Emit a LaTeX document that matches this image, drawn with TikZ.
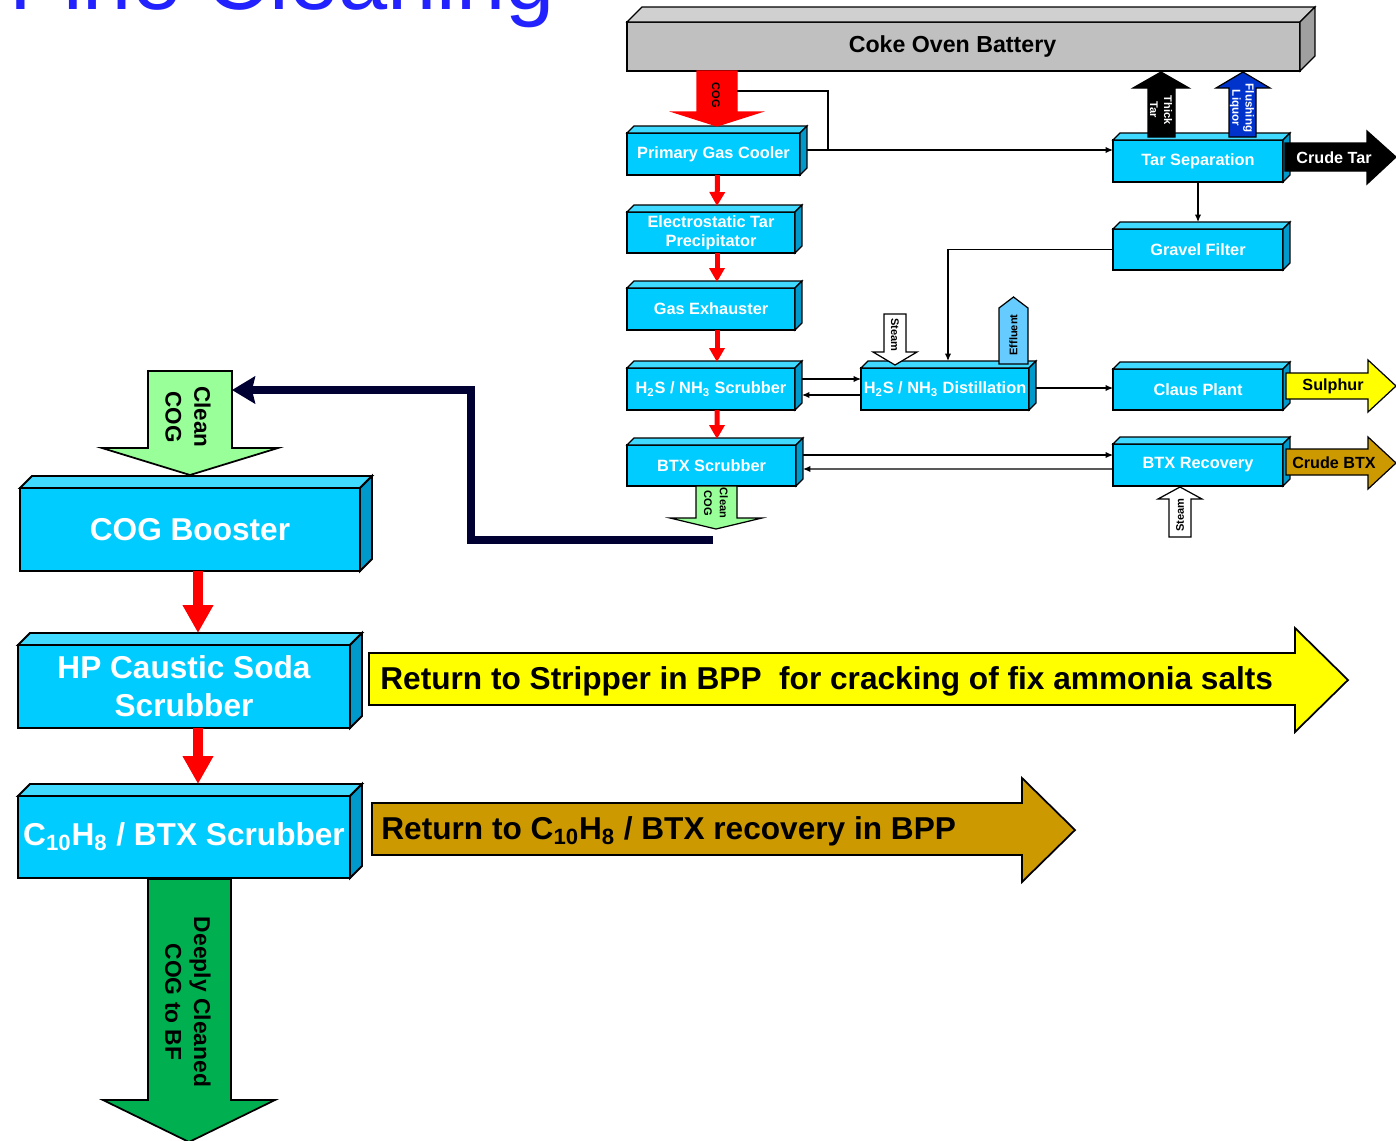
\documentclass[tikz,border=0pt]{standalone}
\usepackage{fontspec}
\setmainfont{Liberation Sans}
\usetikzlibrary{arrows.meta,calc}
\definecolor{boxfront}{HTML}{00CCFF}
\definecolor{boxtop}{HTML}{40D9FF}
\definecolor{boxside}{HTML}{0099CC}
\definecolor{ovenfront}{HTML}{C0C0C0}
\definecolor{oventop}{HTML}{D0D0D0}
\definecolor{ovenside}{HTML}{A0A0A0}
\definecolor{liquorblue}{HTML}{0033CC}
\definecolor{effluentblue}{HTML}{66CCFF}
\definecolor{cleangreen}{HTML}{99FF99}
\definecolor{deepgreen}{HTML}{00B050}
\definecolor{btxgold}{HTML}{CC9900}
\definecolor{sulphuryellow}{HTML}{FFFF00}
\definecolor{returnnavy}{HTML}{000033}
\definecolor{titleblue}{HTML}{2222FF}

\begin{document}
\begin{tikzpicture}[x=0.02cm, y=-0.02cm,
    box/.style={draw=black, line width=0.7pt, fill=boxfront, text=white, inner sep=0pt, outer sep=0pt, align=center, font=\fontsize{9.3}{10.8}\selectfont\bfseries},
    bigbox/.style={box, line width=1.1pt, font=\fontsize{18}{21.5}\selectfont\bfseries},
    topface/.style={draw=black, fill=boxtop, line join=miter},
    sideface/.style={draw=black, fill=boxside, line join=miter},
    blk/.style={draw=black, line width=0.7pt, line join=miter},
    tinylbl/.style={inner sep=0pt, align=center, font=\fontsize{6.3}{7.8}\selectfont\bfseries},
    smalllbl/.style={inner sep=0pt, align=center, font=\fontsize{9.2}{11}\selectfont\bfseries},
    biglbl/.style={inner sep=0pt, align=center, font=\fontsize{12.8}{16.4}\selectfont\bfseries},
    flow/.style={draw=black, line width=0.7pt, -{Latex[length=0.15cm,width=0.13cm]}},
    redflow/.style={draw=red, line width=0.1cm, -{Triangle[width=0.3cm,length=0.28cm]}},
    bigred/.style={draw=red, line width=0.2cm, -{Triangle[width=0.58cm,length=0.56cm]}},
    navyline/.style={draw=returnnavy, line width=0.16cm, line join=miter, -{Stealth[length=0.46cm,width=0.54cm,inset=0.06cm]}},
]
\useasboundingbox (0,0) rectangle (1396,1140);
\clip (0,0) rectangle (1396,1140);

% heading, cut by the top edge
\node[inner sep=0pt, anchor=base west, text=titleblue, font=\fontsize{50.3}{52}\selectfont] (title) at (9,9) {Fine Cleaning};

% oven and process units (front faces)
\node[box, fill=ovenfront, text=black, minimum width=13.46cm, minimum height=0.98cm, font=\fontsize{13.2}{15}\selectfont\bfseries] (cob) at (963.5,46.5) {Coke Oven Battery\hspace*{0.44cm}};
\node[box, minimum width=3.46cm, minimum height=0.84cm] (pgc) at (713.5,154) {Primary Gas Cooler};
\node[box, minimum width=3.36cm, minimum height=0.82cm] (etp) at (711,232.5) {Electrostatic Tar\\Precipitator};
\node[box, minimum width=3.36cm, minimum height=0.84cm] (gex) at (711,309) {Gas Exhauster};
\node[box, minimum width=3.36cm, minimum height=0.84cm] (hss) at (711,389) {H\textsubscript{2}S / NH\textsubscript{3} Scrubber};
\node[box, minimum width=3.38cm, minimum height=0.82cm] (btxs) at (711.5,465.5) {BTX Scrubber};
\node[box, minimum width=3.36cm, minimum height=0.84cm] (hsd) at (945,389) {H\textsubscript{2}S / NH\textsubscript{3} Distillation};
\node[box, minimum width=3.40cm, minimum height=0.84cm] (tsep) at (1198,161) {Tar Separation};
\node[box, minimum width=3.40cm, minimum height=0.82cm] (gfil) at (1198,249.5) {Gravel Filter};
\node[box, minimum width=3.40cm, minimum height=0.82cm] (claus) at (1198,389.5) {Claus Plant};
\node[box, minimum width=3.40cm, minimum height=0.84cm] (btxr) at (1198,465) {BTX Recovery};

\node[bigbox, minimum width=6.80cm, minimum height=1.66cm] (boost) at (190,529.5) {COG Booster};
\node[bigbox, minimum width=6.64cm, minimum height=1.66cm] (hpcs) at (184,686.5) {HP Caustic Soda\\Scrubber};
\node[bigbox, minimum width=6.64cm, minimum height=1.64cm] (c10) at (184,837) {C\textsubscript{10}H\textsubscript{8} / BTX Scrubber};

% top and side faces
\foreach \b/\d/\w in {pgc/7/0.7, etp/7/0.7, gex/7/0.7, hss/7/0.7, btxs/7/0.7, hsd/7/0.7,
                      tsep/7/0.7, gfil/7/0.7, claus/7/0.7, btxr/7/0.7,
                      boost/12/1.1, hpcs/12/1.1, c10/12/1.1} {
  \draw[topface, line width=\w pt] (\b.north west) -- ++(\d,-\d) -- ($(\b.north east)+(\d,-\d)$) -- (\b.north east) -- cycle;
  \draw[sideface, line width=\w pt] (\b.north east) -- ++(\d,-\d) -- ($(\b.south east)+(\d,-\d)$) -- (\b.south east) -- cycle;
}
\draw[topface, fill=oventop, line width=0.7pt] (cob.north west) -- ++(15,-15) -- ($(cob.north east)+(15,-15)$) -- (cob.north east) -- cycle;
\draw[sideface, fill=ovenside, line width=0.7pt] (cob.north east) -- ++(15,-15) -- ($(cob.south east)+(15,-15)$) -- (cob.south east) -- cycle;

% gas line through the column
\draw[redflow] ($(pgc.south)+(4,0)$) -- ($(etp.north)+(6,-6)$);
\draw[redflow] ($(etp.south)+(6,0)$) -- ($(gex.north)+(6,-6)$);
\draw[redflow] ($(gex.south)+(6,0)$) -- ($(hss.north)+(6,-6)$);
\draw[redflow] ($(hss.south)+(6,0)$) -- ($(btxs.north)+(5.5,-6)$);
\draw[bigred] ($(boost.south)+(8,0)$) -- ($(hpcs.north)+(14,-12)$);
\draw[bigred] ($(hpcs.south)+(14,0)$) -- ($(c10.north)+(14,-12)$);

% block arrows
\draw[blk, fill=red, draw=red] (697,71) -- (697,112) -- (673,112) -- (717,126) -- (761,112) -- (737,112) -- (737,71) -- cycle;
\draw[blk, fill=black] (1148,137) -- (1148,88) -- (1133,88) -- (1161,72) -- (1189,88) -- (1175,88) -- (1175,137) -- cycle;
\draw[blk, fill=liquorblue] (1229,137) -- (1229,88) -- (1216,88) -- (1243,72) -- (1270,88) -- (1256,88) -- (1256,137) -- cycle;
\draw[blk, fill=black] (1285,143) -- (1367,143) -- (1367,131) -- (1396,157) -- (1367,184) -- (1367,171) -- (1285,171) -- cycle;
\draw[blk, fill=white] (884,314) -- (906,314) -- (906,352) -- (917,352) -- (895,365) -- (873,352) -- (884,352) -- cycle;
\draw[blk, fill=effluentblue] (999,364) -- (999,308) -- (1013.5,297) -- (1028,308) -- (1028,364) -- cycle;
\draw[blk, fill=sulphuryellow] (1286,373) -- (1368,373) -- (1368,360) -- (1396,386) -- (1368,412) -- (1368,399) -- (1286,399) -- cycle;
\draw[blk, fill=btxgold] (1286,449) -- (1368,449) -- (1368,437) -- (1396,463) -- (1368,489) -- (1368,475) -- (1286,475) -- cycle;
\draw[blk, fill=white] (1169,537) -- (1169,499) -- (1158,499) -- (1180,487) -- (1202,499) -- (1191,499) -- (1191,537) -- cycle;
\draw[blk, fill=cleangreen] (696,486) -- (696,518) -- (670,518) -- (716,529) -- (762,518) -- (737,518) -- (737,486) -- cycle;
\draw[blk, fill=cleangreen, line width=1pt] (148,371) -- (148,448) -- (102,448) -- (190,475) -- (278,448) -- (232,448) -- (232,371) -- cycle;
\draw[blk, fill=sulphuryellow, line width=1pt] (369,653) -- (1295,653) -- (1295,628) -- (1348,680) -- (1295,732) -- (1295,705) -- (369,705) -- cycle;
\draw[blk, fill=btxgold, line width=1pt] (372,803) -- (1022,803) -- (1022,778) -- (1075,830) -- (1022,882) -- (1022,855) -- (372,855) -- cycle;
\draw[blk, fill=deepgreen, line width=1pt] (148,879) -- (148,1100) -- (103,1100) -- (189,1142) -- (275,1100) -- (231,1100) -- (231,879) -- cycle;

% arrow texts
\node[tinylbl, rotate=-90] (cogtxt) at (716,95) {COG};
\node[tinylbl, rotate=-90, text=white, font=\fontsize{6.3}{8}\selectfont\bfseries] (thicktar) at (1161,110) {Thick\\Tar};
\node[tinylbl, rotate=-90, text=white, font=\fontsize{6.6}{7.6}\selectfont\bfseries] (flushliq) at (1242,108) {Flushing\\Liquor};
\node[smalllbl, text=white] (crudetar) at (1334,158) {Crude Tar};
\node[tinylbl, rotate=-90] (steamA) at (895,335) {Steam};
\node[tinylbl, rotate=90] (effluent) at (1013.5,335) {Effluent};
\node[smalllbl] (sulphur) at (1333,386) {Sulphur};
\node[smalllbl] (crudebtx) at (1334,463) {Crude BTX};
\node[tinylbl, rotate=90] (steamB) at (1180,515) {Steam};
\node[tinylbl, rotate=-90, font=\fontsize{6.3}{9}\selectfont\bfseries] (cleancogA) at (716,503) {Clean\\COG};
\node[biglbl, rotate=-90] (cleancogB) at (188,417) {Clean\\COG};
\node[biglbl, rotate=-90, font=\fontsize{13}{16.4}\selectfont\bfseries] (deepcog) at (188,1002) {Deeply Cleaned\\COG to BF};
\node[inner sep=0pt, anchor=west, font=\fontsize{18}{21}\selectfont\bfseries] (retstrip) at (380,681) {Return to Stripper in BPP~ for cracking of fix ammonia salts};
\node[inner sep=0pt, anchor=west, font=\fontsize{18}{21}\selectfont\bfseries] (retbtx) at (381,831) {Return to C\textsubscript{10}H\textsubscript{8} / BTX recovery in BPP};

% liquor and by-product lines
\coordinate (cogside) at (737,91);
\coordinate (bypass) at (828,150);
\draw[line width=0.7pt] (cogside) -| (bypass);
\draw[flow] ($(pgc.east)+(7,-4)$) -- ($(tsep.west)+(0,-11)$);
\draw[flow] (tsep.south) -- ($(gfil.north)+(0,-7)$);
\draw[flow] (gfil.west) -| ($(hsd.north)+(3,-7)$);
\draw[flow] ($(hss.east)+(7,-10)$) -- ($(hsd.west)+(0,-10)$);
\draw[flow] ($(hsd.west)+(0,6)$) -- ($(hss.east)+(7,6)$);
\draw[flow] ($(hsd.east)+(7,-1)$) -- ($(claus.west)+(0,-1.5)$);
\draw[flow] ($(btxs.east)+(7,-10.5)$) -- ($(btxr.west)+(0,-10)$);
\draw[flow] ($(btxr.west)+(0,4)$) -- ($(btxs.east)+(7,3.5)$);

% clean gas back to the booster
\coordinate (navyfrom) at (713,540);
\coordinate (navyto) at (232,390);
\draw[navyline] (navyfrom) -- (471,540) -- (471,390) -- (navyto);
\end{tikzpicture}
\end{document}
